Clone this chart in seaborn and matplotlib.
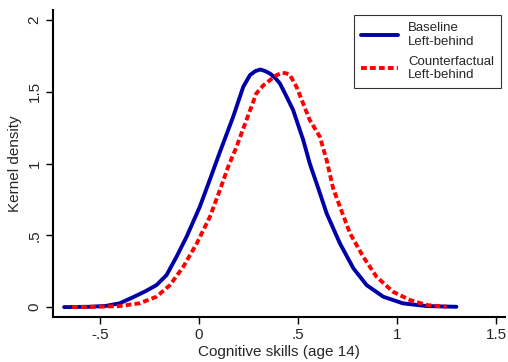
import matplotlib
matplotlib.use('Agg')
import matplotlib.pyplot as plt
import seaborn as sns

# Curvas de densidade
base_x = [-0.68, -0.55, -0.47, -0.40, -0.33, -0.27, -0.214, -0.163, -0.113, -0.062, 0.005,
          0.056, 0.106, 0.173, 0.224, 0.258, 0.285, 0.311, 0.335, 0.359, 0.385,
          0.409, 0.440, 0.476, 0.527, 0.560, 0.603, 0.645, 0.712, 0.780, 0.847, 0.931,
          1.03, 1.15, 1.30]
base_y = [0.0, 0.002, 0.008, 0.026, 0.07, 0.11, 0.153, 0.223, 0.35, 0.49, 0.70,
          0.89, 1.08, 1.326, 1.535, 1.617, 1.645, 1.656, 1.645, 1.628, 1.598,
          1.559, 1.475, 1.373, 1.164, 1.00, 0.827, 0.653, 0.444, 0.27, 0.153, 0.072,
          0.026, 0.007, 0.002]
cf_x = [-0.64, -0.50, -0.40, -0.30, -0.214, -0.146, -0.079, -0.012, 0.056, 0.106, 0.148,
        0.19, 0.24, 0.29, 0.325, 0.359, 0.390, 0.418, 0.440, 0.46, 0.493, 0.56, 0.611,
        0.645, 0.678, 0.712, 0.763, 0.83, 0.897, 0.98, 1.066, 1.15, 1.25]
cf_y = [0.0, 0.003, 0.007, 0.026, 0.072, 0.153, 0.28, 0.44, 0.63, 0.815, 0.978,
        1.117, 1.303, 1.489, 1.545, 1.582, 1.615, 1.633, 1.630, 1.617, 1.535, 1.303, 1.187,
        1.024, 0.827, 0.70, 0.514, 0.35, 0.211, 0.107, 0.049, 0.014, 0.002]
series_labels = ['Baseline\nLeft-behind', 'Counterfactual\nLeft-behind']

x_ticks = [-0.5, 0, 0.5, 1, 1.5]
x_ticklabels = ['-.5', '0', '.5', '1', '1.5']
y_ticks = [0, 0.5, 1, 1.5, 2]
y_ticklabels = ['0', '.5', '1', '1.5', '2']

sns.set_style('white')
plt.rcParams['font.family'] = ['Liberation Sans', 'DejaVu Sans']

fig = plt.figure(figsize=(5.08, 3.62), dpi=100)
ax = fig.add_axes([0.104, 0.124, 0.890, 0.848])

sns.lineplot(x=base_x, y=base_y, sort=False, color='#0000a8', linewidth=2.8,
             label=series_labels[0], ax=ax)
sns.lineplot(x=cf_x, y=cf_y, sort=False, color='#ff0000', linewidth=2.8,
             label=series_labels[1], ax=ax)
for ln in ax.lines:
    ln.set_solid_joinstyle('round')
    ln.set_dash_joinstyle('round')
ax.lines[1].set_linestyle((0, (1.5, 0.8)))

ax.set_xlim(-0.737, 1.545)
ax.set_ylim(-0.07, 2.07)
ax.set_xticks(x_ticks)
ax.set_xticklabels(x_ticklabels, fontsize=11)
ax.set_yticks(y_ticks)
ax.set_yticklabels(y_ticklabels, fontsize=11, rotation=90, va='center')
ax.tick_params(direction='out', length=5, width=1, color='black', pad=3, bottom=True, left=True)

ax.set_xlabel('Cognitive skills (age 14)', fontsize=11, labelpad=2)
ax.set_ylabel('Kernel density', fontsize=11, labelpad=4)

sns.despine(ax=ax)
for s in ['left', 'bottom']:
    ax.spines[s].set_color('black')
    ax.spines[s].set_linewidth(1.5)

leg = ax.legend(loc='upper right', bbox_to_anchor=(0.991, 0.983), borderaxespad=0,
                fontsize=9.5, frameon=True, fancybox=False, edgecolor='black',
                handlelength=2.8, labelspacing=0.6, borderpad=0.5, handletextpad=0.8)
leg.get_frame().set_linewidth(0.8)
leg.get_lines()[1].set_linestyle((0, (1.5, 0.8)))

fig.savefig('out.png', dpi=100)
